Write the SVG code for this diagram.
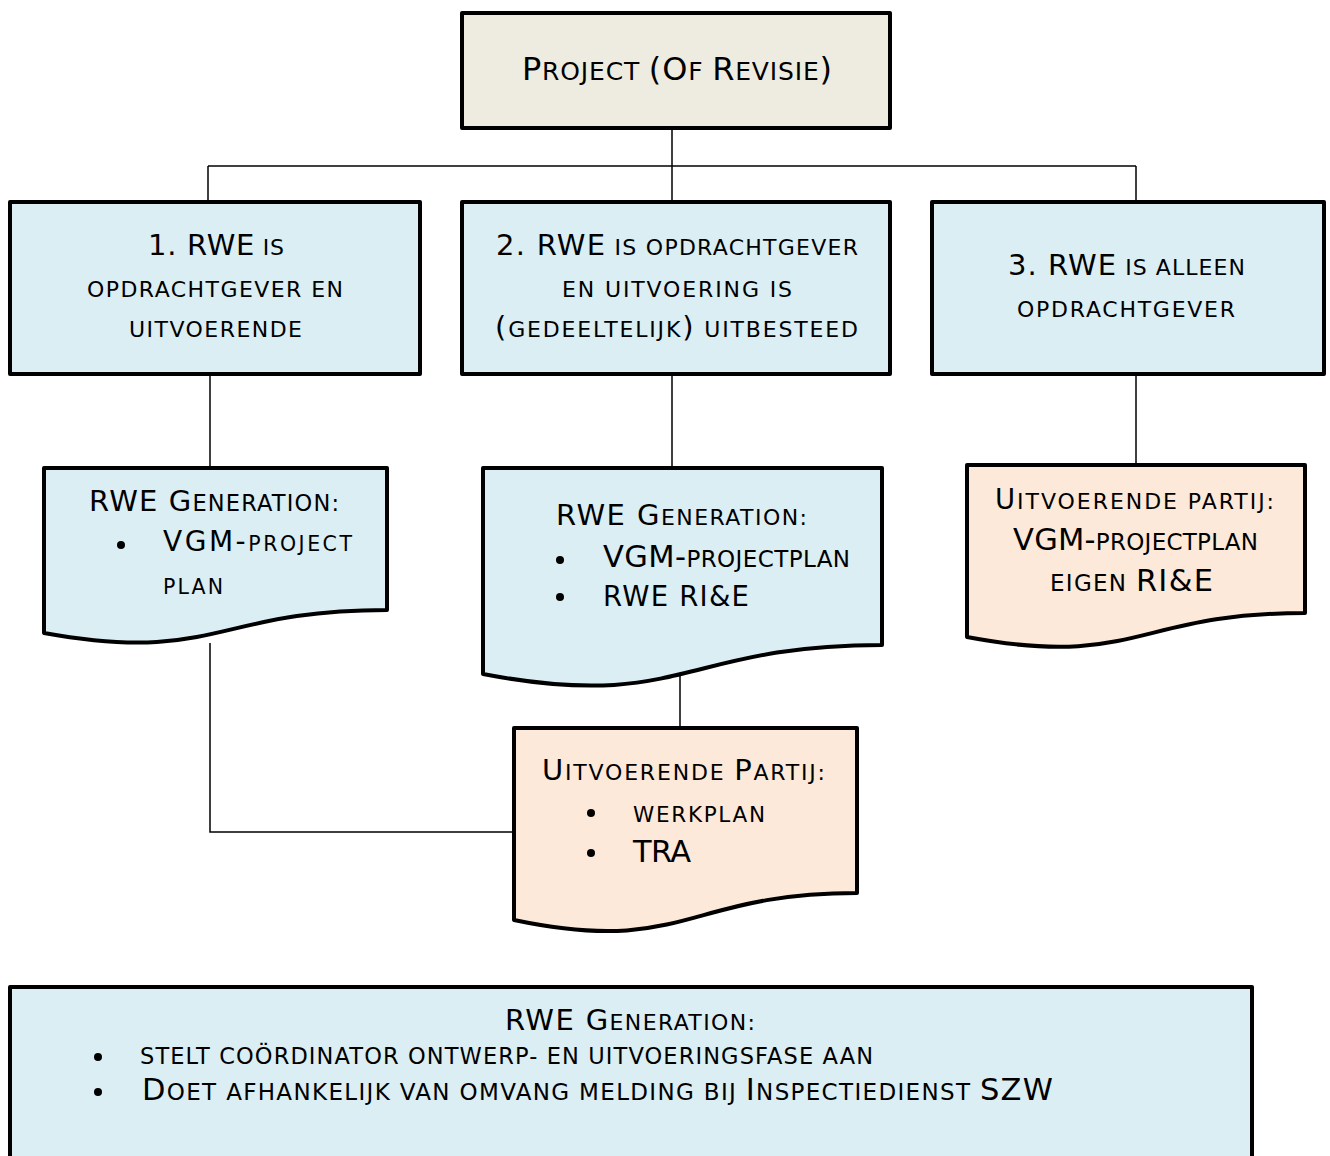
<svg xmlns="http://www.w3.org/2000/svg" width="1330" height="1156" viewBox="0 0 1330 1156">
<style>
text{font-family:"DejaVu Sans","Verdana","Liberation Sans",sans-serif;fill:#000}
.box{stroke:#000;stroke-width:4;stroke-linejoin:round}
.blue{fill:#DBEEF4}
.beige{fill:#EEECE1}
.peach{fill:#FDE9D9}
.con{fill:none;stroke:#000;stroke-width:1.5}
.dot{fill:#000}
</style>
<g id="connectors">
<path class="con" d="M672,128 V202"/>
<path class="con" d="M208,166 H1136"/>
<path class="con" d="M208,166 V202"/>
<path class="con" d="M1136,166 V202"/>
<path class="con" d="M210,374 V468"/>
<path class="con" d="M672,374 V468"/>
<path class="con" d="M1136,374 V465"/>
<path class="con" d="M210,643 V832 H514"/>
<path class="con" d="M680,668 V728"/>
</g>
<g id="project">
<rect class="box beige" x="462" y="13" width="428" height="115"/>
<text x="522" y="80" textLength="310" lengthAdjust="spacing"><tspan font-size="32">P</tspan><tspan font-size="25">ROJECT </tspan><tspan font-size="32">(O</tspan><tspan font-size="25">F </tspan><tspan font-size="32">R</tspan><tspan font-size="25">EVISIE</tspan><tspan font-size="32">)</tspan></text>
</g>
<g id="option1">
<rect class="box blue" x="10" y="202" width="410" height="172"/>
<text x="148" y="255" textLength="136" lengthAdjust="spacing"><tspan font-size="29">1. RWE</tspan><tspan font-size="22"> IS</tspan></text>
<text x="87" y="297" font-size="22" textLength="256" lengthAdjust="spacing">OPDRACHTGEVER EN</text>
<text x="129" y="337" font-size="22" textLength="173" lengthAdjust="spacing">UITVOERENDE</text>
</g>
<g id="option2">
<rect class="box blue" x="462" y="202" width="428" height="172"/>
<text x="496" y="255" textLength="362" lengthAdjust="spacing"><tspan font-size="29">2. RWE</tspan><tspan font-size="22"> IS OPDRACHTGEVER</tspan></text>
<text x="562" y="297" font-size="22" textLength="230" lengthAdjust="spacing">EN UITVOERING IS</text>
<text x="495" y="337" textLength="363" lengthAdjust="spacing"><tspan font-size="29">(</tspan><tspan font-size="22">GEDEELTELIJK</tspan><tspan font-size="29">)</tspan><tspan font-size="22"> UITBESTEED</tspan></text>
</g>
<g id="option3">
<rect class="box blue" x="932" y="202" width="392" height="172"/>
<text x="1008" y="275" textLength="237" lengthAdjust="spacing"><tspan font-size="29">3. RWE</tspan><tspan font-size="22"> IS ALLEEN</tspan></text>
<text x="1017" y="317" font-size="22" textLength="218" lengthAdjust="spacing">OPDRACHTGEVER</text>
</g>
<g id="doc1">
<path class="box blue" d="M44,468 H387 V610 C215.5,610 215.5,664 44,633 Z"/>
<text x="89" y="511" textLength="250" lengthAdjust="spacing"><tspan font-size="29">RWE G</tspan><tspan font-size="22.5">ENERATION:</tspan></text>
<circle class="dot" cx="121" cy="545" r="4"/>
<text x="163" y="551" textLength="189" lengthAdjust="spacing"><tspan font-size="28">VGM-</tspan><tspan font-size="20.5">PROJECT</tspan></text>
<text x="163" y="594" font-size="20.5" textLength="60" lengthAdjust="spacing">PLAN</text>
</g>
<g id="doc2">
<path class="box blue" d="M483,468 H882 V645 C682.5,645 682.5,712 483,674 Z"/>
<text x="556" y="525" textLength="251" lengthAdjust="spacing"><tspan font-size="29">RWE G</tspan><tspan font-size="22">ENERATION:</tspan></text>
<circle class="dot" cx="560" cy="560" r="4"/>
<text x="603" y="567" textLength="247" lengthAdjust="spacing"><tspan font-size="30.5">VGM-</tspan><tspan font-size="23">PROJECTPLAN</tspan></text>
<circle class="dot" cx="560" cy="597" r="4"/>
<text x="603" y="606" font-size="27.5" textLength="146" lengthAdjust="spacing">RWE RI&amp;E</text>
</g>
<g id="doc3">
<path class="box peach" d="M967,465 H1305 V613 C1136,613 1136,669 967,637 Z"/>
<text x="995" y="509" textLength="279" lengthAdjust="spacing"><tspan font-size="27.5">U</tspan><tspan font-size="22">ITVOERENDE PARTIJ:</tspan></text>
<text x="1013" y="550" textLength="245" lengthAdjust="spacing"><tspan font-size="30.5">VGM-</tspan><tspan font-size="23">PROJECTPLAN</tspan></text>
<text x="1050" y="591" textLength="163" lengthAdjust="spacing"><tspan font-size="23">EIGEN </tspan><tspan font-size="30.5">RI&amp;E</tspan></text>
</g>
<g id="doc4">
<path class="box peach" d="M514,728 H857 V893 C685.5,893 685.5,956 514,920 Z"/>
<text x="542" y="780" textLength="283" lengthAdjust="spacing"><tspan font-size="29">U</tspan><tspan font-size="22">ITVOERENDE </tspan><tspan font-size="29">P</tspan><tspan font-size="22">ARTIJ:</tspan></text>
<circle class="dot" cx="591" cy="813" r="4"/>
<text x="633" y="822" font-size="21.5" textLength="132" lengthAdjust="spacing">WERKPLAN</text>
<circle class="dot" cx="591" cy="853" r="4"/>
<text x="633" y="862" font-size="30.5" textLength="58" lengthAdjust="spacing">TRA</text>
</g>
<g id="summary">
<rect class="box blue" x="10" y="987" width="1242" height="200"/>
<text x="505" y="1030" textLength="250" lengthAdjust="spacing"><tspan font-size="29">RWE G</tspan><tspan font-size="22">ENERATION:</tspan></text>
<circle class="dot" cx="98" cy="1057" r="4"/>
<text x="140" y="1064" font-size="22.5" textLength="733" lengthAdjust="spacing">STELT COÖRDINATOR ONTWERP- EN UITVOERINGSFASE AAN</text>
<circle class="dot" cx="98" cy="1092" r="4"/>
<text x="142" y="1100" textLength="911" lengthAdjust="spacing"><tspan font-size="30.5">D</tspan><tspan font-size="23">OET AFHANKELIJK VAN OMVANG MELDING BIJ </tspan><tspan font-size="30.5">I</tspan><tspan font-size="23">NSPECTIEDIENST </tspan><tspan font-size="30.5">SZW</tspan></text>
</g>
</svg>
